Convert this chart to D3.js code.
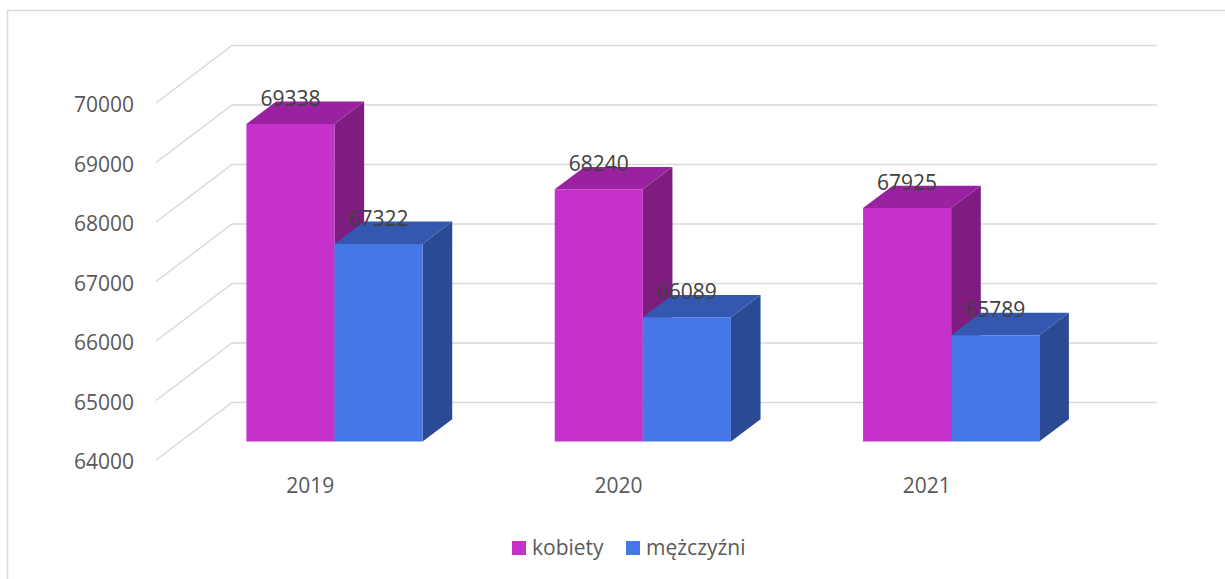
<!DOCTYPE html>
<html>
<head>
<meta charset="utf-8">
<script src="https://cdn.jsdelivr.net/npm/d3@7"></script>
<style>
  body { margin: 0; background: #fff; }
  text { font-family: "Open Sans", sans-serif; }
</style>
</head>
<body>
<div id="chart"></div>
<script>
// chart data
var categories = ["2019", "2020", "2021"];
var kobiety = [69338, 68240, 67925];
var mezczyzni = [67322, 66089, 65789];
var seriesNames = ["kobiety", "mężczyźni"];
var yTicks = [64000, 65000, 66000, 67000, 68000, 69000, 70000];

var width = 1225, height = 579;
var colors = [
    {front: "#c630cb", top: "#9a22a0", side: "#7e1c80"},
    {front: "#4677e6", top: "#3458b0", side: "#2b4a94"}
];

// 3d depth offset of the back wall
var DX = 76, DY = -57.5;
var zFront = 0.32, zBack = 0.71;

var svg = d3.select("#chart").append("svg")
    .attr("width", width)
    .attr("height", height);

// outer frame
svg.append("path")
    .attr("d", "M7.5,579 L7.5,10.5 L1225,10.5")
    .attr("fill", "none")
    .attr("stroke", "#d9d9d9")
    .attr("stroke-width", 1.5);

var x = d3.scaleBand().domain(categories).range([156, 1081]).paddingInner(0).paddingOuter(0);
var y = d3.scaleLinear().domain([64000, 70000]).range([460, 103]);
var barW = x.bandwidth() / 3.5;

function P(px, v, z){
    return [px + DX * z, y(v) + DY * z];
}

// gridlines: side wall diagonals + back wall
var grid = svg.append("g").attr("stroke", "#d9d9d9").attr("stroke-width", 1.5).attr("fill", "none");
yTicks.forEach(function(t){
    var a = P(x.range()[0], t, 0), b = P(x.range()[0], t, 1), c = P(x.range()[1], t, 1);
    grid.append("path").attr("d", "M" + a + "L" + b + "L" + c);
});

// y axis labels
var yAxis = svg.append("g")
    .attr("transform", "translate(134,0)")
    .call(d3.axisLeft(y).tickValues(yTicks).tickSize(0).tickPadding(0).tickFormat(d3.format("d")));
yAxis.select(".domain").remove();
yAxis.selectAll("text")
    .style("font-family", "Open Sans")
    .style("font-size", "21px")
    .attr("fill", "#595959")
    .attr("dy", "0.42em");

// x axis labels
var xAxis = svg.append("g")
    .attr("transform", "translate(0,478)")
    .call(d3.axisBottom(x).tickSize(0).tickPadding(0));
xAxis.select(".domain").remove();
xAxis.selectAll("text")
    .style("font-family", "Open Sans")
    .style("font-size", "21px")
    .attr("fill", "#595959")
    .attr("dy", "0.7em");

// bars
var data = [];
categories.forEach(function(c, i){
    data.push({cat: c, s: 0, v: kobiety[i]});
    data.push({cat: c, s: 1, v: mezczyzni[i]});
});

function poly(pts){ return "M" + pts.join("L") + "Z"; }

var bars = svg.append("g");
data.forEach(function(d){
    var xl = x(d.cat) + x.bandwidth() / 2 - barW + d.s * barW;
    var xr = xl + barW;
    var base = 64000;
    var g = bars.append("g");
    g.append("path")
        .attr("d", poly([P(xr, base, zFront), P(xr, base, zBack), P(xr, d.v, zBack), P(xr, d.v, zFront)]))
        .attr("fill", colors[d.s].side);
    g.append("path")
        .attr("d", poly([P(xl, d.v, zFront), P(xr, d.v, zFront), P(xr, d.v, zBack), P(xl, d.v, zBack)]))
        .attr("fill", colors[d.s].top);
    g.append("path")
        .attr("d", poly([P(xl, base, zFront), P(xr, base, zFront), P(xr, d.v, zFront), P(xl, d.v, zFront)]))
        .attr("fill", colors[d.s].front);
    d.lx = (xl + xr) / 2 + DX * zFront;
    d.ly = P(xl, d.v, zFront)[1] - 18;
});

// data labels
svg.append("g").selectAll("text")
    .data(data)
    .enter()
    .append("text")
    .attr("x", d => d.lx)
    .attr("y", d => d.ly)
    .attr("text-anchor", "middle")
    .style("font-size", "21px")
    .attr("fill", "#404040")
    .text(d => d.v);

// legend
var legendX = [512, 626];
var legend = svg.append("g").selectAll("g")
    .data(seriesNames)
    .enter()
    .append("g")
    .attr("transform", (d, i) => "translate(" + legendX[i] + ",541)");
legend.append("rect")
    .attr("width", 14)
    .attr("height", 14)
    .attr("fill", (d, i) => colors[i].front);
legend.append("text")
    .attr("x", 20)
    .attr("y", 14)
    .style("font-size", "21px")
    .attr("fill", "#595959")
    .text(d => d);
</script>
</body>
</html>
